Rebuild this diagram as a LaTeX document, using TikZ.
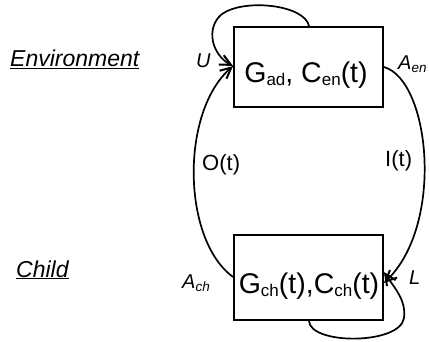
\documentclass[tikz,border=0pt]{standalone}
\usepackage{fontspec}
\setmainfont{Liberation Sans}
\usetikzlibrary{arrows.meta}
\newcommand{\sbsc}[1]{\raisebox{-3pt}{\fontsize{17}{17}\selectfont #1}}
\newcommand{\sbsl}[1]{\raisebox{-3pt}{\fontsize{13.5}{13.5}\selectfont #1}}
\tikzset{
  box/.style={draw, line width=1.8pt, minimum width=149pt, minimum height=80pt, inner sep=0pt},
  boxtext/.style={anchor=base, font=\fontsize{28.5}{28.5}\selectfont, inner sep=0pt},
  lab/.style={anchor=base west, font=\fontsize{20}{20}\selectfont\itshape, inner sep=0pt},
  mid/.style={anchor=base west, font=\fontsize{22}{22}\selectfont, inner sep=0pt},
  title/.style={anchor=base west, font=\fontsize{23}{23}\selectfont\itshape, inner sep=0pt},
  conn/.style={line width=1.7pt},
  arr/.style={conn, -{Straight Barb[length=11pt, width=10.5pt, line width=2pt]}}
}
\begin{document}
\begin{tikzpicture}[x=1pt, y=-1pt]
\useasboundingbox (0,0) rectangle (429,342);
\node[box] (env) at (308.5,67) {};
\node[box, minimum height=85pt] (ch) at (308.5,277.5) {};
\node[boxtext] (envt) at (306,83) {G\sbsc{ad}, C\sbsc{en}(t)};
\node[boxtext] (cht) at (309,294) {G\sbsc{ch}(t),C\sbsc{ch}(t)};
\node[title] (tenv) at (10,67) {\underline{Environment}};
\node[title] (tch) at (16,277) {\underline{Child}};
\node[lab] (u) at (196,68) {U};
\node[lab] (aen) at (398,70) {A\sbsl{en}};
\node[lab] (ach) at (182,288) {A\sbsl{ch}};
\node[lab] (l) at (409,284) {L};
\node[mid] (o) at (202,171) {O(t)};
\node[mid] (i) at (385,167) {I(t)};
\coordinate (envin) at ([yshift=1pt]env.west);
% top self loop
\draw[arr] ([xshift=0.5pt]env.north) .. controls (305,5) and (245,-2) .. (222,14)
  .. controls (205,28) and (212,55) .. (envin);
% O(t)
\draw[arr] ([yshift=0.5pt]ch.west) .. controls (182,240) and (180,112) .. (envin);
% I(t)
\draw[arr] (env.east) .. controls (430,80) and (445,225) .. ([yshift=-5.5pt]ch.east);
% bottom self loop
\draw[arr] ([xshift=0.5pt]ch.south) .. controls (310,345) and (400,345) .. (404,318)
  .. controls (406,300) and (396,290) .. ([yshift=5.5pt]ch.east);
\end{tikzpicture}
\end{document}
